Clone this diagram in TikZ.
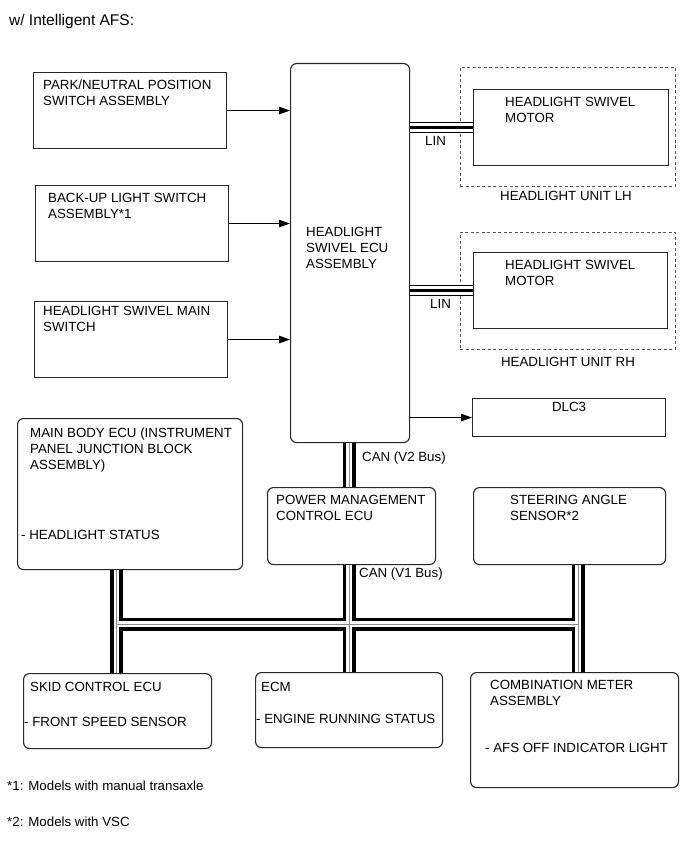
\documentclass[tikz,border=0pt]{standalone}
\usepackage{fontspec}
\setmainfont{Liberation Sans}
\usetikzlibrary{arrows.meta}
\begin{document}
\begin{tikzpicture}[x=1pt,y=-1pt,
  box/.style={draw=black!85, line width=1.1pt, inner sep=0pt, anchor=north west},
  rbox/.style={box, rounded corners=6pt},
  dbox/.style={draw=black!65, line width=0.9pt, dash pattern=on 3pt off 2.5pt, inner sep=0pt, anchor=north west},
  txt/.style={anchor=base west, inner sep=0pt, font=\fontsize{13.3}{16}\selectfont},
  ctxt/.style={txt, anchor=base},
  arr/.style={draw=black, line width=1pt, -{Triangle[length=11pt,width=7.5pt]}},
  busO/.style={draw=black, line width=13pt},
  busW/.style={draw=white, line width=5.5pt},
  busC/.style={draw=black!45, line width=0.8pt},
  linO/.style={draw=black, line width=11pt},
  linW/.style={draw=white, line width=9pt},
  linC/.style={draw=black, line width=3pt}
]
\useasboundingbox (0,0) rectangle (689,853);

% title
\node[txt, font=\fontsize{15.5}{18}\selectfont] (title) at (9,26) {w/ Intelligent AFS:};

% boxes
\node[box, minimum width=193pt, minimum height=76pt] (psw) at (33,72) {};
\node[box, minimum width=193pt, minimum height=76pt] (bls) at (35,185) {};
\node[box, minimum width=193pt, minimum height=76pt] (hsm) at (34,301) {};
\node[rbox, minimum width=119pt, minimum height=379pt] (ecu) at (290,63) {};
\node[dbox, minimum width=215pt, minimum height=119pt] (ulh) at (460,67) {};
\node[box, minimum width=195pt, minimum height=76pt] (mlh) at (473,89) {};
\node[dbox, minimum width=215pt, minimum height=117pt] (urh) at (460,232) {};
\node[box, minimum width=194pt, minimum height=76pt] (mrh) at (473,252) {};
\node[box, minimum width=193pt, minimum height=38pt] (dlc) at (472,398) {};
\node[rbox, minimum width=225pt, minimum height=151pt] (mb) at (17,418) {};
\node[rbox, minimum width=168pt, minimum height=77pt] (pm) at (267,487) {};
\node[rbox, minimum width=192pt, minimum height=77pt] (sas) at (473,487) {};
\node[rbox, minimum width=188pt, minimum height=75pt] (skid) at (23,673) {};
\node[rbox, minimum width=187pt, minimum height=75pt] (ecm) at (255,672) {};
\node[rbox, minimum width=208pt, minimum height=115pt] (cmb) at (470,672) {};

% texts
\node[txt] (tpsw) at (43,89.5) {\vtop{\hbox{PARK/NEUTRAL POSITION}\hbox{SWITCH ASSEMBLY}}};
\node[txt] (tbls) at (48,202.5) {\vtop{\hbox{BACK-UP LIGHT SWITCH}\hbox{ASSEMBLY*1}}};
\node[txt] (thsm) at (43,315.5) {\vtop{\hbox{HEADLIGHT SWIVEL MAIN}\hbox{SWITCH}}};
\node[txt] (tecu) at (306,236.5) {\vtop{\hbox{HEADLIGHT}\hbox{SWIVEL ECU}\hbox{ASSEMBLY}}};
\node[txt] (tmlh) at (505,106.5) {\vtop{\hbox{HEADLIGHT SWIVEL}\hbox{MOTOR}}};
\node[txt] (tmrh) at (505,269.5) {\vtop{\hbox{HEADLIGHT SWIVEL}\hbox{MOTOR}}};
\node[ctxt] (tulh) at (566,200.5) {HEADLIGHT UNIT LH};
\node[ctxt] (turh) at (568,366.5) {HEADLIGHT UNIT RH};
\node[txt] (lin1) at (425,145.5) {LIN};
\node[txt] (lin2) at (430,308.5) {LIN};
\node[ctxt] (tdlc) at (569,411.3) {DLC3};
\node[txt] (tmb) at (30,437) {\vtop{\hbox{MAIN BODY ECU (INSTRUMENT}\hbox{PANEL JUNCTION BLOCK}\hbox{ASSEMBLY)}}};
\node[txt] (tmb2) at (21,539) {- HEADLIGHT STATUS};
\node[txt] (can2) at (362,461.5) {CAN (V2 Bus)};
\node[txt] (can1) at (359,577.5) {CAN (V1 Bus)};
\node[txt] (tpm) at (276,504) {\vtop{\hbox{POWER MANAGEMENT}\hbox{CONTROL ECU}}};
\node[txt] (tsas) at (510,504) {\vtop{\hbox{STEERING ANGLE}\hbox{SENSOR*2}}};
\node[txt] (tskid) at (30,691) {SKID CONTROL ECU};
\node[txt] (tskid2) at (24,726) {- FRONT SPEED SENSOR};
\node[txt] (tecm) at (261,691) {ECM};
\node[txt] (tecm2) at (256,723) {- ENGINE RUNNING STATUS};
\node[txt] (tcmb) at (490,689) {\vtop{\hbox{COMBINATION METER}\hbox{ASSEMBLY}}};
\node[txt] (tcmb2) at (485,752) {- AFS OFF INDICATOR LIGHT};
\node[txt] (fn1) at (7,790) {*1: Models with manual transaxle};
\node[txt] (fn2) at (7,826) {*2: Models with VSC};

% arrows
\draw[arr] (psw.east) -- (psw.east -| ecu.west);
\draw[arr] (bls.east) -- (bls.east -| ecu.west);
\draw[arr] (hsm.east) -- (hsm.east -| ecu.west);
\draw[arr] (ecu.east |- dlc.west) -- (dlc.west);

% LIN lines
\foreach \s in {linO,linW,linC}{
  \draw[\s] (ecu.east |- mlh.west) -- (mlh.west);
  \draw[\s] (ecu.east |- mrh.west) -- (mrh.west);
}

% CAN bus
\coordinate (jL) at (116.5,624);
\coordinate (jM) at (349,624);
\coordinate (jR) at (578,624);
\foreach \s in {busO,busW,busC}{
  \draw[\s] (mb.south -| jL) -- (skid.north -| jL)
            (ecu.south -| jM) -- (pm.north -| jM)
            (pm.south -| jM) -- (ecm.north -| jM)
            (sas.south -| jR) -- (cmb.north -| jR)
            (jL) -- (jR);
}
\end{tikzpicture}
\end{document}
